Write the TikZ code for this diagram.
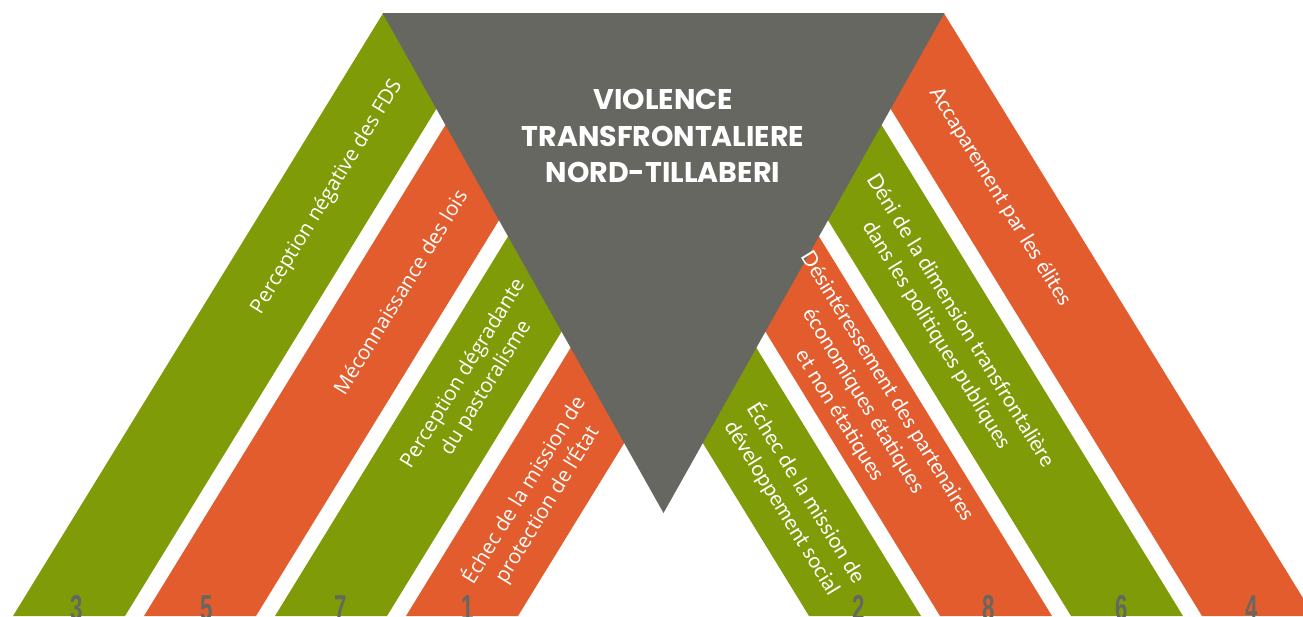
\documentclass[tikz,border=0pt]{standalone}
\usepackage{fontspec}
\setmainfont{Open Sans}
\newfontfamily\titlefont{Poppins}
\newfontfamily\rfont{Lato}
\newfontfamily\numfont{Liberation Sans}
\definecolor{bgreen}{HTML}{7F9C08}
\definecolor{borange}{HTML}{E25C2D}
\definecolor{tgray}{HTML}{676762}
\begin{document}
\begin{tikzpicture}[x=1pt,y=-1pt,
  greenband/.style={fill=bgreen},
  orangeband/.style={fill=borange},
  ltxt/.style={text=white,align=center,inner sep=0pt,rotate=58.45,
    font=\fontsize{20.5}{27}\selectfont},
  rtxt/.style={text=white,align=center,inner sep=0pt,rotate=-58.45,
    font=\rfont\fontsize{21}{28}\selectfont},
  numtxt/.style={text=tgray,inner sep=0pt,anchor=base,
    font=\numfont\bfseries\fontsize{36}{36}\selectfont},
  titletxt/.style={text=white,align=center,inner sep=0pt,
    font=\titlefont\bfseries\fontsize{28.5}{36.5}\selectfont}]
\useasboundingbox (0,0) rectangle (1303,616);
\clip (0,0) rectangle (1303,616);
% left bands
\fill[greenband]  (13,616) -- (383.2,13) -- (495.2,13) -- (125,616) -- cycle;
\fill[orangeband] (144,616) -- (514.2,13) -- (626.2,13) -- (256,616) -- cycle;
\fill[greenband]  (275,616) -- (645.2,13) -- (757.2,13) -- (387,616) -- cycle;
\fill[orangeband] (406,616) -- (776.2,13) -- (888.2,13) -- (518,616) -- cycle;
% right bands
\fill[greenband]  (921,616) -- (550.8,13) -- (438.8,13) -- (809,616) -- cycle;
\fill[orangeband] (1052,616) -- (681.8,13) -- (569.8,13) -- (940,616) -- cycle;
\fill[greenband]  (1183,616) -- (812.8,13) -- (700.8,13) -- (1071,616) -- cycle;
\fill[orangeband] (1314,616) -- (943.8,13) -- (831.8,13) -- (1202,616) -- cycle;
% central triangle
\fill[tgray] (382.5,13) -- (944.5,13) -- (663.5,513) -- cycle;
\node[titletxt] (title) at (663,136) {VIOLENCE\\TRANSFRONTALIERE\\NORD-TILLABERI};
% left texts
\node[ltxt] (t3) at (327,197) {Perception négative des FDS};
\node[ltxt] (t5) at (400,292) {Méconnaissance des lois};
\node[ltxt] (t7) at (475,381) {Perception dégradante\\du pastoralisme};
\node[ltxt] (t1) at (535,497) {Échec de la mission de\\protection de l'État};
% right texts
\node[rtxt] (t4) at (1000,197) {Accaparement par les élites};
\node[rtxt] (t6) at (948,328) {Déni de la dimension transfrontalière\\dans les politiques publiques};
\node[rtxt] (t8) at (863,401) {Désintéressement des partenaires\\économiques étatiques\\et non étatiques};
\node[rtxt] (t2) at (795,500) {Échec de la mission de\\développement social};
% numbers
\node[numtxt] (n3) at (77,620) {\scalebox{0.62}[1]{3}};
\node[numtxt] (n5) at (207,620) {\scalebox{0.62}[1]{5}};
\node[numtxt] (n7) at (341,620) {\scalebox{0.62}[1]{7}};
\node[numtxt] (n1) at (468,620) {\scalebox{0.62}[1]{1}};
\node[numtxt] (n2) at (859,620) {\scalebox{0.62}[1]{2}};
\node[numtxt] (n8) at (989,620) {\scalebox{0.62}[1]{8}};
\node[numtxt] (n6) at (1122,620) {\scalebox{0.62}[1]{6}};
\node[numtxt] (n4) at (1252,620) {\scalebox{0.62}[1]{4}};
\end{tikzpicture}
\end{document}
